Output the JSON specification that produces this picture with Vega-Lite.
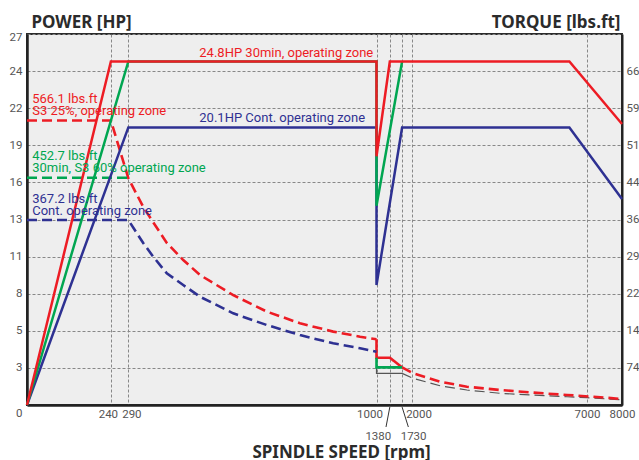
{
  "$schema": "https://vega.github.io/schema/vega-lite/v6.json",
  "width": 595,
  "height": 371,
  "autosize": "none",
  "padding": {"left": 27, "top": 34, "right": 17, "bottom": 55},
  "background": "white",
  "config": {
    "view": {"fill": "#eeeeee", "stroke": "#2b2b2b", "strokeWidth": 2},
    "font": "Roboto"
  },
  "datasets": {
    "power": [
      {"series": "Cont.", "rpm": 0, "v": 0},
      {"series": "Cont.", "rpm": 290, "v": 20.2},
      {"series": "Cont.", "rpm": 1000, "v": 20.2},
      {"series": "Cont.", "rpm": 1000, "v": 8.73},
      {"series": "Cont.", "rpm": 1730, "v": 20.2},
      {"series": "Cont.", "rpm": 6500, "v": 20.2},
      {"series": "Cont.", "rpm": 8000, "v": 15.0},
      {"series": "S3 60%", "rpm": 0, "v": 0},
      {"series": "S3 60%", "rpm": 290, "v": 25},
      {"series": "S3 60%", "rpm": 1000, "v": 25},
      {"series": "S3 60%", "rpm": 1000, "v": 14.5},
      {"series": "S3 60%", "rpm": 1730, "v": 25},
      {"series": "S3 25%", "rpm": 0, "v": 0},
      {"series": "S3 25%", "rpm": 240, "v": 25},
      {"series": "S3 25%", "rpm": 1000, "v": 25},
      {"series": "S3 25%", "rpm": 1000, "v": 18.1},
      {"series": "S3 25%", "rpm": 1380, "v": 25},
      {"series": "S3 25%", "rpm": 6500, "v": 25},
      {"series": "S3 25%", "rpm": 8000, "v": 20.45}
    ],
    "torque": [
      {"series": "S3 25%", "part": "a", "kind": "torque", "rpm": 0, "v": 20.7},
      {"series": "S3 25%", "part": "a", "kind": "torque", "rpm": 240, "v": 20.7},
      {"series": "S3 25%", "part": "a", "kind": "torque", "rpm": 290, "v": 16.5},
      {"series": "S3 25%", "part": "a", "kind": "torque", "rpm": 333, "v": 14.4},
      {"series": "S3 25%", "part": "a", "kind": "torque", "rpm": 361, "v": 13.3},
      {"series": "S3 25%", "part": "a", "kind": "torque", "rpm": 400, "v": 11.8},
      {"series": "S3 25%", "part": "a", "kind": "torque", "rpm": 447, "v": 10.55},
      {"series": "S3 25%", "part": "a", "kind": "torque", "rpm": 495, "v": 9.46},
      {"series": "S3 25%", "part": "a", "kind": "torque", "rpm": 590, "v": 8.0},
      {"series": "S3 25%", "part": "a", "kind": "torque", "rpm": 686, "v": 6.8},
      {"series": "S3 25%", "part": "a", "kind": "torque", "rpm": 781, "v": 5.95},
      {"series": "S3 25%", "part": "a", "kind": "torque", "rpm": 876, "v": 5.34},
      {"series": "S3 25%", "part": "a", "kind": "torque", "rpm": 953, "v": 4.97},
      {"series": "S3 25%", "part": "a", "kind": "torque", "rpm": 1000, "v": 4.78},
      {"series": "S3 25%", "part": "b", "kind": "transition", "rpm": 1000, "v": 4.78},
      {"series": "S3 25%", "part": "b", "kind": "transition", "rpm": 1000, "v": 3.44},
      {"series": "S3 25%", "part": "b", "kind": "transition", "rpm": 1380, "v": 3.44},
      {"series": "S3 25%", "part": "b", "kind": "transition", "rpm": 1730, "v": 2.74},
      {"series": "S3 25%", "part": "c", "kind": "torque", "rpm": 1730, "v": 2.74},
      {"series": "S3 25%", "part": "c", "kind": "torque", "rpm": 2050, "v": 2.3},
      {"series": "S3 25%", "part": "c", "kind": "torque", "rpm": 2814, "v": 1.7},
      {"series": "S3 25%", "part": "c", "kind": "torque", "rpm": 3577, "v": 1.33},
      {"series": "S3 25%", "part": "c", "kind": "torque", "rpm": 4528, "v": 1.09},
      {"series": "S3 25%", "part": "c", "kind": "torque", "rpm": 5480, "v": 0.9},
      {"series": "S3 25%", "part": "c", "kind": "torque", "rpm": 6434, "v": 0.73},
      {"series": "S3 25%", "part": "c", "kind": "torque", "rpm": 7385, "v": 0.56},
      {"series": "S3 25%", "part": "c", "kind": "torque", "rpm": 8000, "v": 0.44},
      {"series": "S3 60%", "part": "a", "kind": "torque", "rpm": 0, "v": 16.54},
      {"series": "S3 60%", "part": "a", "kind": "torque", "rpm": 290, "v": 16.54},
      {"series": "S3 60%", "part": "b", "kind": "transition", "rpm": 1000, "v": 3.44},
      {"series": "S3 60%", "part": "b", "kind": "transition", "rpm": 1000, "v": 2.74},
      {"series": "S3 60%", "part": "b", "kind": "transition", "rpm": 1730, "v": 2.74},
      {"series": "Cont.", "part": "a", "kind": "torque", "rpm": 0, "v": 13.46},
      {"series": "Cont.", "part": "a", "kind": "torque", "rpm": 290, "v": 13.46},
      {"series": "Cont.", "part": "a", "kind": "torque", "rpm": 333, "v": 11.77},
      {"series": "Cont.", "part": "a", "kind": "torque", "rpm": 361, "v": 10.8},
      {"series": "Cont.", "part": "a", "kind": "torque", "rpm": 400, "v": 9.58},
      {"series": "Cont.", "part": "a", "kind": "torque", "rpm": 447, "v": 8.73},
      {"series": "Cont.", "part": "a", "kind": "torque", "rpm": 495, "v": 7.88},
      {"series": "Cont.", "part": "a", "kind": "torque", "rpm": 590, "v": 6.67},
      {"series": "Cont.", "part": "a", "kind": "torque", "rpm": 686, "v": 5.82},
      {"series": "Cont.", "part": "a", "kind": "torque", "rpm": 781, "v": 5.09},
      {"series": "Cont.", "part": "a", "kind": "torque", "rpm": 876, "v": 4.49},
      {"series": "Cont.", "part": "a", "kind": "torque", "rpm": 953, "v": 4.13},
      {"series": "Cont.", "part": "a", "kind": "torque", "rpm": 1000, "v": 3.88},
      {"series": "ref", "part": "b", "kind": "transition", "rpm": 1000, "v": 2.74},
      {"series": "ref", "part": "b", "kind": "transition", "rpm": 1000, "v": 2.3},
      {"series": "ref", "part": "b", "kind": "transition", "rpm": 1730, "v": 2.3},
      {"series": "ref", "part": "c", "kind": "torque", "rpm": 1730, "v": 2.3},
      {"series": "ref", "part": "c", "kind": "torque", "rpm": 2050, "v": 1.94},
      {"series": "ref", "part": "c", "kind": "torque", "rpm": 2814, "v": 1.4},
      {"series": "ref", "part": "c", "kind": "torque", "rpm": 3577, "v": 1.09},
      {"series": "ref", "part": "c", "kind": "torque", "rpm": 4528, "v": 0.85},
      {"series": "ref", "part": "c", "kind": "torque", "rpm": 5480, "v": 0.72},
      {"series": "ref", "part": "c", "kind": "torque", "rpm": 6434, "v": 0.6},
      {"series": "ref", "part": "c", "kind": "torque", "rpm": 7000, "v": 0.53},
      {"series": "ref", "part": "c", "kind": "torque", "rpm": 8000, "v": 0.38}
    ],
    "notes": [
      {"label": "24.8HP 30min, operating zone", "series": "S3 25%", "rpm": 493, "v": 25.35},
      {"label": "20.1HP Cont. operating zone", "series": "Cont.", "rpm": 493, "v": 20.62},
      {"label": "566.1 lbs.ft", "series": "S3 25%", "rpm": 15, "v": 21.96},
      {"label": "S3 25%, operating zone", "series": "S3 25%", "rpm": 15, "v": 21.1},
      {"label": "452.7 lbs.ft", "series": "S3 60%", "rpm": 15, "v": 17.83},
      {"label": "30min, S3 60% operating zone", "series": "S3 60%", "rpm": 15, "v": 16.98},
      {"label": "367.2 lbs.ft", "series": "Cont.", "rpm": 15, "v": 14.68},
      {"label": "Cont. operating zone", "series": "Cont.", "rpm": 15, "v": 13.83}
    ],
    "leaders": [
      {"rpm": 1380, "rpm2": 1271, "v": -0.15, "v2": -1.6},
      {"rpm": 1730, "rpm2": 1908, "v": -0.15, "v2": -1.6}
    ]
  },
  "encoding": {
    "x": {
      "field": "rpm",
      "type": "quantitative",
      "scale": {"domain": [0, 1000, 8000], "range": [0, 349.5, 595], "nice": false, "zero": false},
      "axis": {
        "orient": "bottom",
        "values": [240, 290, 1000, 1380, 1730, 2000, 7000, 8000],
        "format": "d",
        "labelOverlap": false,
        "labelFlush": false,
        "labelBound": false,
        "ticks": false,
        "labelPadding": {
          "condition": {"test": "datum.value==1380 || datum.value==1730", "value": 25},
          "value": 3
        },
        "labelOffset": {
          "condition": [
            {"test": "datum.value==240", "value": -3},
            {"test": "datum.value==290", "value": 3},
            {"test": "datum.value==1000", "value": -7},
            {"test": "datum.value==1380", "value": -12},
            {"test": "datum.value==1730", "value": 11},
            {"test": "datum.value==2000", "value": 7}
          ],
          "value": 0
        },
        "labelFont": "Roboto",
        "labelFontSize": 11.5,
        "labelColor": "#555555",
        "domainColor": "#222222",
        "domainWidth": 2.5,
        "grid": true,
        "gridColor": "#888888",
        "gridDash": [3, 2],
        "gridWidth": 1,
        "title": "SPINDLE SPEED [rpm]",
        "titleFont": "Noto Sans",
        "titleFontSize": 17,
        "titleFontWeight": "bold",
        "titleColor": "#2b2b2b",
        "titleAlign": "center",
        "titleBaseline": "alphabetic",
        "titleX": 314,
        "titleY": 52
      }
    },
    "y": {
      "field": "v",
      "type": "quantitative",
      "scale": {"domain": [0, 27], "nice": false, "zero": true},
      "axis": null
    }
  },
  "layer": [
    {
      "data": {"name": "torque"},
      "transform": [{"filter": "datum.series == 'ref'"}],
      "mark": {"type": "line", "strokeWidth": 1.2, "color": "#555555"},
      "encoding": {
        "y": {
          "field": "v",
          "type": "quantitative",
          "scale": {"domain": [0, 27], "nice": false, "zero": true},
          "axis": {
            "orient": "left",
            "values": [0, 2.7, 5.4, 8.1, 10.8, 13.5, 16.2, 18.9, 21.6, 24.3, 27],
            "labelExpr": "['0','3','5','8','11','13','16','19','22','24','27'][round(datum.value/2.7)]",
            "ticks": false,
            "labelPadding": 5,
            "labelOffset": {
              "condition": [
                {"test": "datum.value==0", "value": 8},
                {"test": "datum.value==27", "value": 3}
              ],
              "value": 0
            },
            "labelFont": "Roboto",
            "labelFontSize": 11.5,
            "labelColor": "#555555",
            "domainColor": "#222222",
            "domainWidth": 2.5,
            "grid": true,
            "gridColor": "#888888",
            "gridDash": [3, 2],
            "gridWidth": 1,
            "title": "POWER [HP]",
            "titleFont": "Noto Sans",
            "titleFontSize": 17,
            "titleFontWeight": "bold",
            "titleColor": "#2b2b2b",
            "titleAngle": 0,
            "titleAlign": "left",
            "titleBaseline": "alphabetic",
            "titleX": 4,
            "titleY": -7
          }
        },
        "strokeDash": {
          "field": "kind",
          "type": "nominal",
          "scale": {"domain": ["torque", "transition"], "range": [[10, 5], [1, 0]]},
          "legend": null
        },
        "detail": {"field": "part"},
        "order": {"value": null}
      }
    },
    {
      "data": {"name": "torque"},
      "transform": [{"filter": "datum.series != 'ref'"}],
      "mark": {"type": "line", "strokeWidth": 2.6},
      "encoding": {
        "color": {
          "field": "series",
          "type": "nominal",
          "scale": {"domain": ["Cont.", "S3 60%", "S3 25%"], "range": ["#2e3192", "#00a651", "#ed1c24"]},
          "legend": null
        },
        "strokeDash": {
          "field": "kind",
          "type": "nominal",
          "scale": {"domain": ["torque", "transition"], "range": [[10, 5], [1, 0]]},
          "legend": null
        },
        "detail": {"field": "part"},
        "order": {"value": null}
      }
    },
    {
      "data": {"name": "power"},
      "transform": [{"filter": "datum.series == 'Cont.'"}],
      "mark": {"type": "line", "strokeWidth": 2.5},
      "encoding": {
        "color": {
          "field": "series",
          "type": "nominal",
          "scale": {"domain": ["Cont.", "S3 60%", "S3 25%"], "range": ["#2e3192", "#00a651", "#ed1c24"]},
          "legend": null
        },
        "order": {"value": null}
      }
    },
    {
      "data": {"name": "power"},
      "transform": [{"filter": "datum.series == 'S3 60%'"}],
      "mark": {"type": "line", "strokeWidth": 2.5},
      "encoding": {
        "color": {
          "field": "series",
          "type": "nominal",
          "scale": {"domain": ["Cont.", "S3 60%", "S3 25%"], "range": ["#2e3192", "#00a651", "#ed1c24"]},
          "legend": null
        },
        "order": {"value": null}
      }
    },
    {
      "data": {"name": "power"},
      "transform": [{"filter": "datum.series == 'S3 25%'"}],
      "mark": {"type": "line", "strokeWidth": 2.5},
      "encoding": {
        "color": {
          "field": "series",
          "type": "nominal",
          "scale": {"domain": ["Cont.", "S3 60%", "S3 25%"], "range": ["#2e3192", "#00a651", "#ed1c24"]},
          "legend": null
        },
        "order": {"value": null}
      }
    },
    {
      "data": {"name": "leaders"},
      "mark": {"type": "rule", "color": "#333333", "strokeWidth": 1},
      "encoding": {
        "x2": {"field": "rpm2"},
        "y2": {"field": "v2"}
      }
    },
    {
      "data": {"name": "notes"},
      "mark": {"type": "text", "align": "left", "baseline": "alphabetic", "font": "Roboto", "fontSize": 13},
      "encoding": {
        "text": {"field": "label"},
        "color": {
          "field": "series",
          "type": "nominal",
          "scale": {"domain": ["Cont.", "S3 60%", "S3 25%"], "range": ["#2e3192", "#00a651", "#ed1c24"]},
          "legend": null
        },
        "y": {
          "field": "v",
          "type": "quantitative",
          "scale": {"domain": [0, 27], "nice": false, "zero": true},
          "axis": {
            "orient": "right",
            "values": [0, 2.7, 5.4, 8.1, 10.8, 13.5, 16.2, 18.9, 21.6, 24.3, 27],
            "labelExpr": "['','74','14','22','29','36','44','51','59','66',''][round(datum.value/2.7)]",
            "ticks": false,
            "grid": false,
            "labelPadding": 4,
            "labelFont": "Roboto",
            "labelFontSize": 11.5,
            "labelColor": "#555555",
            "domainColor": "#222222",
            "domainWidth": 2,
            "title": "TORQUE [lbs.ft]",
            "titleFont": "Noto Sans",
            "titleFontSize": 17,
            "titleFontWeight": "bold",
            "titleColor": "#2b2b2b",
            "titleAngle": 0,
            "titleAlign": "right",
            "titleBaseline": "alphabetic",
            "titleX": -2,
            "titleY": -7
          }
        }
      }
    }
  ],
  "resolve": {"scale": {"y": "shared", "x": "shared"}, "axis": {"y": "independent"}}
}
